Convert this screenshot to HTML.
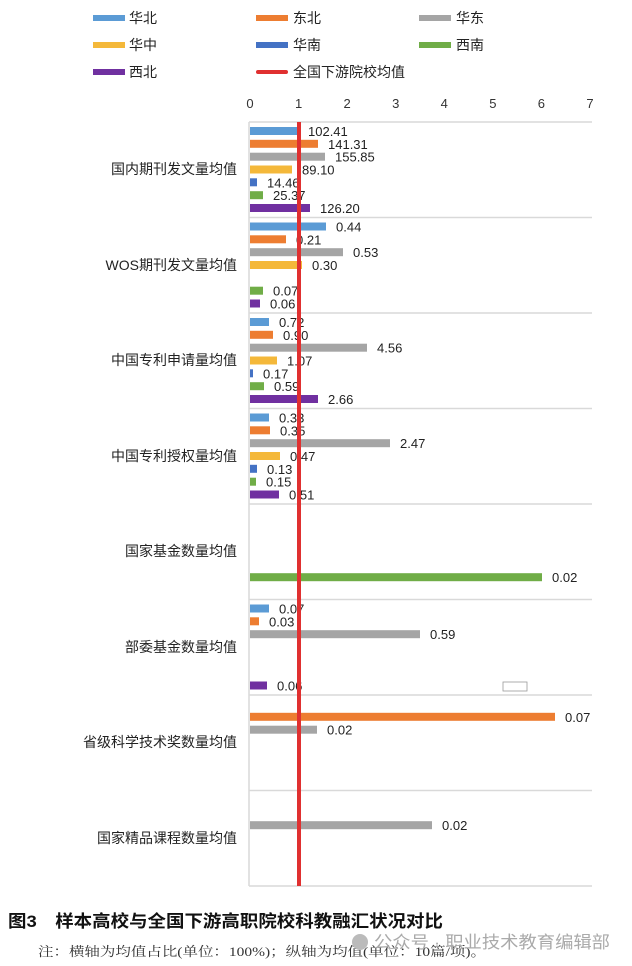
<!DOCTYPE html>
<html><head><meta charset="utf-8"><style>
body{margin:0;background:#fff;}
svg{display:block;font-family:"Liberation Sans","Noto Sans CJK SC",sans-serif;}
</style></head><body>
<svg width="632" height="966" viewBox="0 0 632 966" xmlns="http://www.w3.org/2000/svg">
<g font-size="14" fill="#222">
<rect x="93" y="15" width="32" height="6" fill="#5b9bd5"/><text x="129" y="23">华北</text>
<rect x="256" y="15" width="32" height="6" fill="#ed7d31"/><text x="293" y="23">东北</text>
<rect x="419" y="15" width="32" height="6" fill="#a5a5a5"/><text x="456" y="23">华东</text>
<rect x="93" y="42" width="32" height="6" fill="#f4b83a"/><text x="129" y="50">华中</text>
<rect x="256" y="42" width="32" height="6" fill="#4472c4"/><text x="293" y="50">华南</text>
<rect x="419" y="42" width="32" height="6" fill="#70ad47"/><text x="456" y="50">西南</text>
<rect x="93" y="69" width="32" height="6" fill="#7030a0"/><text x="129" y="77">西北</text>
<rect x="256" y="70" width="32" height="4" rx="2" fill="#e03030"/><text x="293" y="77">全国下游院校均值</text>
</g>
<g font-size="13" fill="#333" text-anchor="middle">
<text x="250" y="108">0</text><text x="298.6" y="108">1</text><text x="347.1" y="108">2</text><text x="395.7" y="108">3</text><text x="444.3" y="108">4</text><text x="492.9" y="108">5</text><text x="541.4" y="108">6</text><text x="590" y="108">7</text>
</g>
<g stroke="#d9d9d9" stroke-width="1.5">
<line x1="249" y1="122" x2="592" y2="122"/><line x1="249" y1="217.5" x2="592" y2="217.5"/><line x1="249" y1="313" x2="592" y2="313"/><line x1="249" y1="408.5" x2="592" y2="408.5"/><line x1="249" y1="504" x2="592" y2="504"/><line x1="249" y1="599.5" x2="592" y2="599.5"/><line x1="249" y1="695" x2="592" y2="695"/><line x1="249" y1="790.5" x2="592" y2="790.5"/><line x1="249" y1="886" x2="592" y2="886"/>
<line x1="249" y1="122" x2="249" y2="886"/>
</g>
<g font-size="14" fill="#222" text-anchor="end">
<text x="237" y="174">国内期刊发文量均值</text>
<text x="237" y="270">WOS期刊发文量均值</text>
<text x="237" y="365">中国专利申请量均值</text>
<text x="237" y="461">中国专利授权量均值</text>
<text x="237" y="556">国家基金数量均值</text>
<text x="237" y="652">部委基金数量均值</text>
<text x="237" y="747">省级科学技术奖数量均值</text>
<text x="237" y="843">国家精品课程数量均值</text>
</g>
<g>
<rect x="250" y="127" width="48" height="8" fill="#5b9bd5"/>
<rect x="250" y="139.8" width="68" height="8" fill="#ed7d31"/>
<rect x="250" y="152.7" width="75" height="8" fill="#a5a5a5"/>
<rect x="250" y="165.5" width="42" height="8" fill="#f4b83a"/>
<rect x="250" y="178.3" width="7" height="8" fill="#4472c4"/>
<rect x="250" y="191.2" width="13" height="8" fill="#70ad47"/>
<rect x="250" y="204" width="60" height="8" fill="#7030a0"/>

<rect x="250" y="222.5" width="76" height="8" fill="#5b9bd5"/>
<rect x="250" y="235.3" width="36" height="8" fill="#ed7d31"/>
<rect x="250" y="248.2" width="93" height="8" fill="#a5a5a5"/>
<rect x="250" y="261" width="52" height="8" fill="#f4b83a"/>
<rect x="250" y="286.7" width="13" height="8" fill="#70ad47"/>
<rect x="250" y="299.5" width="10" height="8" fill="#7030a0"/>

<rect x="250" y="318" width="19" height="8" fill="#5b9bd5"/>
<rect x="250" y="330.8" width="23" height="8" fill="#ed7d31"/>
<rect x="250" y="343.7" width="117" height="8" fill="#a5a5a5"/>
<rect x="250" y="356.5" width="27" height="8" fill="#f4b83a"/>
<rect x="250" y="369.3" width="3" height="8" fill="#4472c4"/>
<rect x="250" y="382.2" width="14" height="8" fill="#70ad47"/>
<rect x="250" y="395" width="68" height="8" fill="#7030a0"/>

<rect x="250" y="413.5" width="19" height="8" fill="#5b9bd5"/>
<rect x="250" y="426.3" width="20" height="8" fill="#ed7d31"/>
<rect x="250" y="439.2" width="140" height="8" fill="#a5a5a5"/>
<rect x="250" y="452" width="30" height="8" fill="#f4b83a"/>
<rect x="250" y="464.8" width="7" height="8" fill="#4472c4"/>
<rect x="250" y="477.7" width="6" height="8" fill="#70ad47"/>
<rect x="250" y="490.5" width="29" height="8" fill="#7030a0"/>

<rect x="250" y="573.2" width="292" height="8" fill="#70ad47"/>

<rect x="250" y="604.5" width="19" height="8" fill="#5b9bd5"/>
<rect x="250" y="617.3" width="9" height="8" fill="#ed7d31"/>
<rect x="250" y="630.2" width="170" height="8" fill="#a5a5a5"/>
<rect x="250" y="681.5" width="17" height="8" fill="#7030a0"/>

<rect x="250" y="712.8" width="305" height="8" fill="#ed7d31"/>
<rect x="250" y="725.7" width="67" height="8" fill="#a5a5a5"/>

<rect x="250" y="821.2" width="182" height="8" fill="#a5a5a5"/>
</g>
<g font-size="13" fill="#222">
<text x="308" y="136">102.41</text>
<text x="328" y="148.8">141.31</text>
<text x="335" y="161.7">155.85</text>
<text x="302" y="174.5">89.10</text>
<text x="267" y="187.3">14.46</text>
<text x="273" y="200.2">25.37</text>
<text x="320" y="213">126.20</text>

<text x="336" y="231.5">0.44</text>
<text x="296" y="244.3">0.21</text>
<text x="353" y="257.2">0.53</text>
<text x="312" y="270">0.30</text>
<text x="273" y="295.7">0.07</text>
<text x="270" y="308.5">0.06</text>

<text x="279" y="327">0.72</text>
<text x="283" y="339.8">0.90</text>
<text x="377" y="352.7">4.56</text>
<text x="287" y="365.5">1.07</text>
<text x="263" y="378.3">0.17</text>
<text x="274" y="391.2">0.59</text>
<text x="328" y="404">2.66</text>

<text x="279" y="422.5">0.33</text>
<text x="280" y="435.3">0.35</text>
<text x="400" y="448.2">2.47</text>
<text x="290" y="461">0.47</text>
<text x="267" y="473.8">0.13</text>
<text x="266" y="486.7">0.15</text>
<text x="289" y="499.5">0.51</text>

<text x="552" y="582.2">0.02</text>

<text x="279" y="613.5">0.07</text>
<text x="269" y="626.3">0.03</text>
<text x="430" y="639.2">0.59</text>
<text x="277" y="690.5">0.06</text>

<text x="565" y="721.8">0.07</text>
<text x="327" y="734.7">0.02</text>

<text x="442" y="830.2">0.02</text>
</g>
<rect x="503" y="682" width="24" height="9" fill="none" stroke="#999" stroke-width="0.8"/>
<rect x="297" y="122" width="4" height="764" fill="#e03030"/>
<text x="8" y="927" font-size="17" fill="#111" font-weight="bold" textLength="435" lengthAdjust="spacingAndGlyphs">图3　样本高校与全国下游高职院校科教融汇状况对比</text>
<text x="38" y="956" font-size="13" fill="#333" font-family="Liberation Serif,Noto Serif CJK SC,serif" textLength="448" lengthAdjust="spacingAndGlyphs">注：横轴为均值占比(单位：100%)；纵轴为均值(单位：10篇/项)。</text>
<text x="374" y="948" font-size="17" fill="#aaa" textLength="236" lengthAdjust="spacingAndGlyphs">公众号 · 职业技术教育编辑部</text>
<circle cx="360" cy="942" r="8" fill="#bbb"/>
</svg>
</body></html>
